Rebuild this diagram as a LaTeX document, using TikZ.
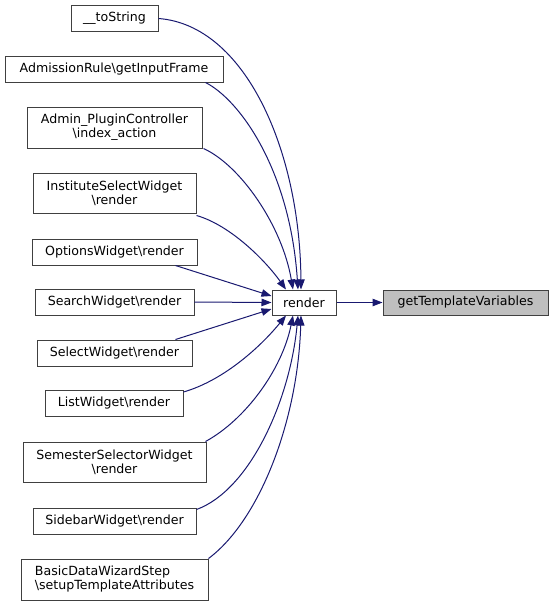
\documentclass[tikz,border=0pt]{standalone}
\usepackage{fontspec}
\setmainfont{DejaVu Sans}
\usetikzlibrary{arrows.meta}
\definecolor{edgeblue}{HTML}{191970}
\definecolor{boxgray}{HTML}{404040}
\definecolor{hlfill}{HTML}{BFBFBF}
\newcommand{\bs}{\textbackslash}
\tikzset{
  fn/.style={draw=boxgray, line width=1pt, fill=white, inner sep=0pt, minimum height=26pt,
    font=\fontsize{12.6}{14}\selectfont, align=center},
  fn2/.style={fn, minimum height=41pt},
  call/.style={edgeblue, line width=1pt, -{Triangle[length=10pt,width=7.5pt]}},
}
\begin{document}
\begin{tikzpicture}[x=1pt,y=-1pt]
\useasboundingbox (0,0) rectangle (552,606);
\node[fn, minimum width=87pt] (ts) at (114.5,18.5) {\_\_toString};
\node[fn, minimum width=218pt] (ar) at (114,69) {AdmissionRule\bs getInputFrame};
\node[fn2, minimum width=175pt] (ap) at (114.5,127.5) {Admin\_PluginController\\\bs index\_action};
\node[fn2, minimum width=163pt, minimum height=40pt] (is) at (114.5,193) {InstituteSelectWidget\\\bs render};
\node[fn, minimum width=165pt] (ow) at (114.5,252) {OptionsWidget\bs render};
\node[fn, minimum width=159pt] (sw) at (114.5,302) {SearchWidget\bs render};
\node[fn, minimum width=155pt] (sel) at (114.5,353) {SelectWidget\bs render};
\node[fn, minimum width=138pt] (lw) at (114,403.5) {ListWidget\bs render};
\node[fn2, minimum width=183pt, minimum height=40pt] (ss) at (114.5,462) {SemesterSelectorWidget\\\bs render};
\node[fn, minimum width=163pt] (sb) at (114.5,521) {SidebarWidget\bs render};
\node[fn2, minimum width=187pt, align=left] (bd) at (114.5,579.5) {BasicDataWizardStep\\\bs setupTemplateAttributes};
\node[fn, minimum width=64pt, minimum height=25pt] (r) at (304,302.5) {render};
\node[fn, minimum width=165pt, minimum height=25pt, fill=hlfill] (gt) at (465.5,302.5) {getTemplateVariables};

% top arrivals
\draw[call] (ts.east) .. controls (245,25) and (300,150) .. ([xshift=-3pt]r.north);
\draw[call] ([xshift=-18pt]ar.south east) .. controls (240,100) and (290,170) .. ([xshift=-6pt]r.north);
\draw[call] ([xshift=1pt]ap.south east) .. controls (240,165) and (282,225) .. ([xshift=-11pt]r.north);
\draw[call] ([yshift=-2pt]is.south east) .. controls (230,225) and (265,260) .. ([xshift=-18pt]r.north);
% left arrivals
\draw[call] ([xshift=-22pt]ow.south east) -- ([yshift=6.5pt]r.west);
\draw[call] (sw.east) -- (r.west);
\draw[call] ([xshift=-17pt]sel.north east) -- ([yshift=-6.5pt]r.west);
% bottom arrivals
\draw[call] ([yshift=-2pt]lw.north east) .. controls (225,380) and (262,345) .. ([xshift=-18pt]r.south);
\draw[call] ([xshift=-1pt]ss.north east) .. controls (245,420) and (282,370) .. ([xshift=-11pt]r.south);
\draw[call] ([yshift=-2pt]sb.north east) .. controls (250,490) and (290,400) .. ([xshift=-6pt]r.south);
\draw[call] (bd.north east) .. controls (260,520) and (298,420) .. ([xshift=-3pt]r.south);
% right
\draw[call] (r.east) -- (gt.west);
\end{tikzpicture}
\end{document}
